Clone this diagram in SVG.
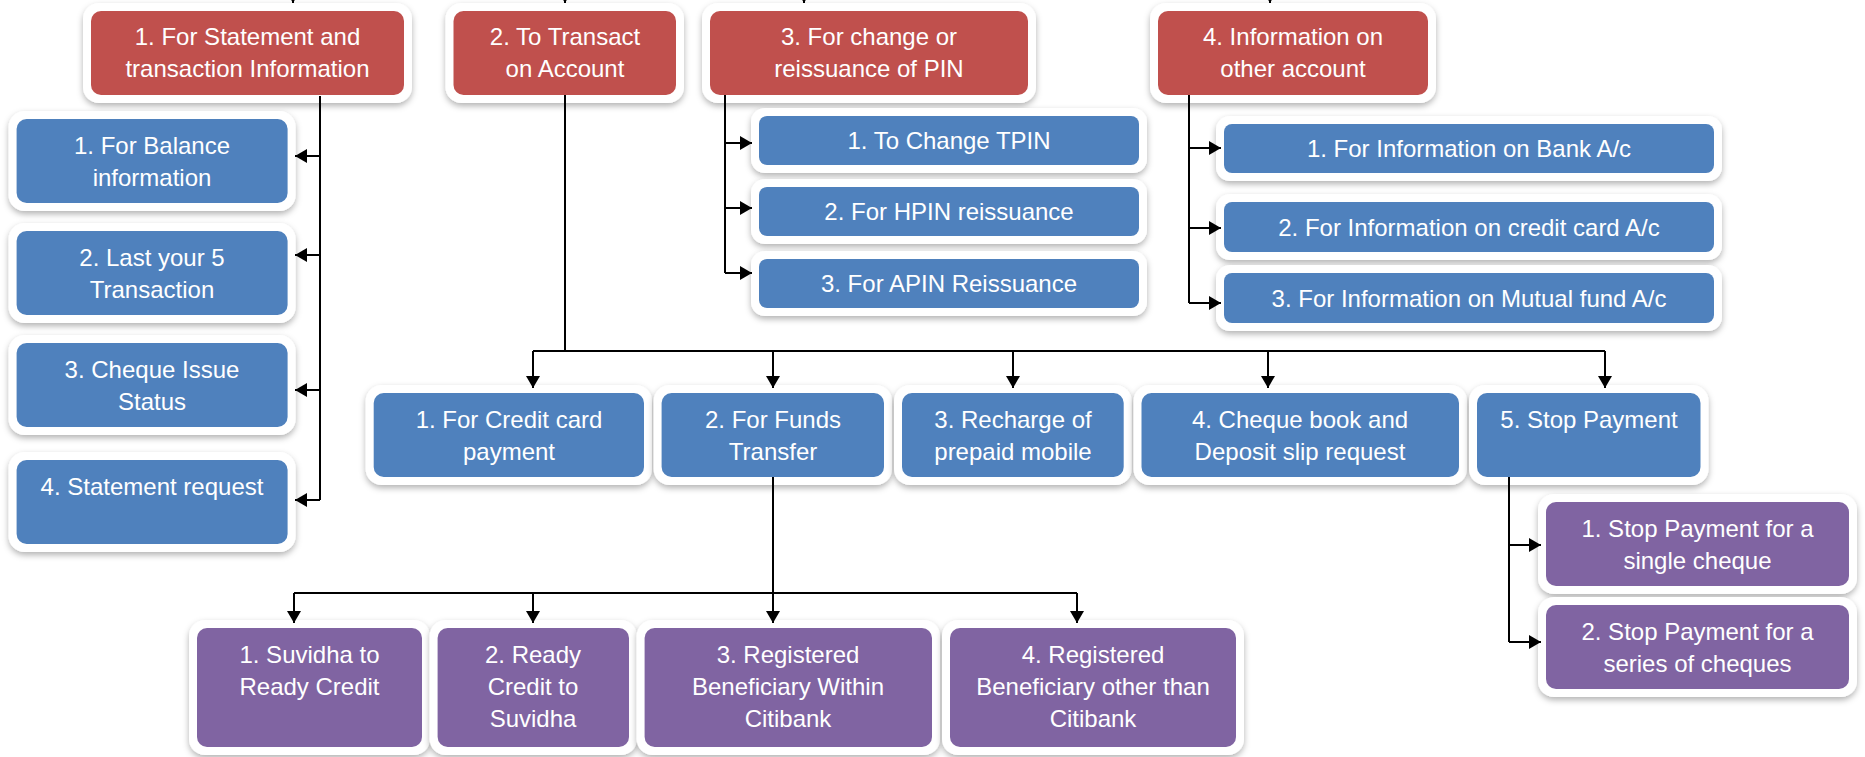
<svg xmlns="http://www.w3.org/2000/svg" width="1865" height="757" viewBox="0 0 1865 757">
<style>
.w{fill:#ffffff;filter:url(#sh)}
.red{fill:#C0504D}
.blue{fill:#4F81BD}
.pur{fill:#8064A2}
text{font-family:"Liberation Sans",Arial,sans-serif;font-size:24px;fill:#ffffff;text-anchor:middle}
.c{fill:none;stroke:#000000;stroke-width:2}
.a{marker-end:url(#ah)}
</style>
<defs>
<filter id="sh" x="-10%" y="-10%" width="120%" height="130%">
<feDropShadow dx="0" dy="3" stdDeviation="3" flood-color="#000000" flood-opacity="0.3"/>
</filter>
<marker id="ah" viewBox="0 0 12 14" markerWidth="12" markerHeight="14" refX="12" refY="7" orient="auto" markerUnits="userSpaceOnUse">
<path d="M0,0 L12,7 L0,14 z" fill="#000000"/>
</marker>
</defs>
<rect width="1865" height="757" fill="#ffffff"/>

<g id="r1"><rect class="w" x="83" y="3" width="329" height="100" rx="16"/><rect class="red" x="91" y="11" width="313" height="84" rx="10"/><text x="247.5" y="45">1. For Statement and</text><text x="247.5" y="77">transaction Information</text></g>
<g id="r2"><rect class="w" x="445.5" y="3" width="238.5" height="100" rx="16"/><rect class="red" x="453.5" y="11" width="222.5" height="84" rx="10"/><text x="565" y="45">2. To Transact</text><text x="565" y="77">on Account</text></g>
<g id="r3"><rect class="w" x="702" y="3" width="334" height="100" rx="16"/><rect class="red" x="710" y="11" width="318" height="84" rx="10"/><text x="869" y="45">3. For change or</text><text x="869" y="77">reissuance of PIN</text></g>
<g id="r4"><rect class="w" x="1150" y="3" width="286" height="100" rx="16"/><rect class="red" x="1158" y="11" width="270" height="84" rx="10"/><text x="1293" y="45">4. Information on</text><text x="1293" y="77">other account</text></g>

<g id="b1"><rect class="w" x="8.6" y="111" width="287" height="100" rx="16"/><rect class="blue" x="16.6" y="119" width="271" height="84" rx="10"/><text x="152" y="154">1. For Balance</text><text x="152" y="186">information</text></g>
<g id="b2"><rect class="w" x="8.6" y="223" width="287" height="100" rx="16"/><rect class="blue" x="16.6" y="231" width="271" height="84" rx="10"/><text x="152" y="266">2. Last your 5</text><text x="152" y="298">Transaction</text></g>
<g id="b3"><rect class="w" x="8.6" y="335" width="287" height="100" rx="16"/><rect class="blue" x="16.6" y="343" width="271" height="84" rx="10"/><text x="152" y="378">3. Cheque Issue</text><text x="152" y="410">Status</text></g>
<g id="b4"><rect class="w" x="8.6" y="452" width="287" height="100" rx="16"/><rect class="blue" x="16.6" y="460" width="271" height="84" rx="10"/><text x="152" y="495">4. Statement request</text></g>

<g id="p1"><rect class="w" x="751" y="108" width="396" height="65" rx="14"/><rect class="blue" x="759" y="116" width="380" height="49" rx="8"/><text x="949" y="149">1. To Change TPIN</text></g>
<g id="p2"><rect class="w" x="751" y="179" width="396" height="65" rx="14"/><rect class="blue" x="759" y="187" width="380" height="49" rx="8"/><text x="949" y="220">2. For HPIN reissuance</text></g>
<g id="p3"><rect class="w" x="751" y="251" width="396" height="65" rx="14"/><rect class="blue" x="759" y="259" width="380" height="49" rx="8"/><text x="949" y="292">3. For APIN Reissuance</text></g>

<g id="i1"><rect class="w" x="1216" y="116" width="506" height="65" rx="14"/><rect class="blue" x="1224" y="124" width="490" height="49" rx="8"/><text x="1469" y="157">1. For Information on Bank A/c</text></g>
<g id="i2"><rect class="w" x="1216" y="194" width="506" height="66" rx="14"/><rect class="blue" x="1224" y="202" width="490" height="50" rx="8"/><text x="1469" y="236">2. For Information on credit card A/c</text></g>
<g id="i3"><rect class="w" x="1216" y="265" width="506" height="66" rx="14"/><rect class="blue" x="1224" y="273" width="490" height="50" rx="8"/><text x="1469" y="307">3. For Information on Mutual fund A/c</text></g>

<g id="m1"><rect class="w" x="365.7" y="385" width="286.3" height="100" rx="16"/><rect class="blue" x="373.7" y="393" width="270.3" height="84" rx="10"/><text x="509" y="428">1. For Credit card</text><text x="509" y="460">payment</text></g>
<g id="m2"><rect class="w" x="653.6" y="385" width="238.4" height="100" rx="16"/><rect class="blue" x="661.6" y="393" width="222.4" height="84" rx="10"/><text x="773" y="428">2. For Funds</text><text x="773" y="460">Transfer</text></g>
<g id="m3"><rect class="w" x="894" y="385" width="237.7" height="100" rx="16"/><rect class="blue" x="902" y="393" width="221.7" height="84" rx="10"/><text x="1013" y="428">3. Recharge of</text><text x="1013" y="460">prepaid mobile</text></g>
<g id="m4"><rect class="w" x="1133.5" y="385" width="333.5" height="100" rx="16"/><rect class="blue" x="1141.5" y="393" width="317.5" height="84" rx="10"/><text x="1300" y="428">4. Cheque book and</text><text x="1300" y="460">Deposit slip request</text></g>
<g id="m5"><rect class="w" x="1469" y="385" width="239.5" height="100" rx="16"/><rect class="blue" x="1477" y="393" width="223.5" height="84" rx="10"/><text x="1589" y="428">5. Stop Payment</text></g>

<g id="s1"><rect class="w" x="1538" y="494" width="319" height="100" rx="16"/><rect class="pur" x="1546" y="502" width="303" height="84" rx="10"/><text x="1697.5" y="537">1. Stop Payment for a</text><text x="1697.5" y="569">single cheque</text></g>
<g id="s2"><rect class="w" x="1538" y="597" width="319" height="100" rx="16"/><rect class="pur" x="1546" y="605" width="303" height="84" rx="10"/><text x="1697.5" y="640">2. Stop Payment for a</text><text x="1697.5" y="672">series of cheques</text></g>

<g id="f1"><rect class="w" x="189" y="620" width="241" height="135" rx="16"/><rect class="pur" x="197" y="628" width="225" height="119" rx="10"/><text x="309.5" y="663">1. Suvidha to</text><text x="309.5" y="695">Ready Credit</text></g>
<g id="f2"><rect class="w" x="429.6" y="620" width="207.4" height="135" rx="16"/><rect class="pur" x="437.6" y="628" width="191.4" height="119" rx="10"/><text x="533" y="663">2. Ready</text><text x="533" y="695">Credit to</text><text x="533" y="727">Suvidha</text></g>
<g id="f3"><rect class="w" x="636.6" y="620" width="303.4" height="135" rx="16"/><rect class="pur" x="644.6" y="628" width="287.4" height="119" rx="10"/><text x="788" y="663">3. Registered</text><text x="788" y="695">Beneficiary Within</text><text x="788" y="727">Citibank</text></g>
<g id="f4"><rect class="w" x="942" y="620" width="302" height="135" rx="16"/><rect class="pur" x="950" y="628" width="286" height="119" rx="10"/><text x="1093" y="663">4. Registered</text><text x="1093" y="695">Beneficiary other than</text><text x="1093" y="727">Citibank</text></g>

<g id="connectors">
<path class="c a" d="M293,-20 V3"/>
<path class="c a" d="M565,-20 V3"/>
<path class="c a" d="M804,-20 V3"/>
<path class="c a" d="M1270,-20 V3"/>

<path class="c" d="M320,96 V500"/>
<path class="c a" d="M320,156 H295"/>
<path class="c a" d="M320,255 H295"/>
<path class="c a" d="M320,390 H295"/>
<path class="c a" d="M320,500 H295"/>

<path class="c" d="M565,95 V351 M533,351 H1605"/>
<path class="c a" d="M533,351 V388"/>
<path class="c a" d="M773,351 V388"/>
<path class="c a" d="M1013,351 V388"/>
<path class="c a" d="M1268,351 V388"/>
<path class="c a" d="M1605,351 V388"/>

<path class="c" d="M725,95 V273"/>
<path class="c a" d="M725,143 H752"/>
<path class="c a" d="M725,208 H752"/>
<path class="c a" d="M725,273 H752"/>

<path class="c" d="M1189,95 V303"/>
<path class="c a" d="M1189,148 H1221"/>
<path class="c a" d="M1189,228 H1221"/>
<path class="c a" d="M1189,303 H1221"/>

<path class="c" d="M294,593 H1077"/>
<path class="c a" d="M773,477 V623"/>
<path class="c a" d="M294,593 V623"/>
<path class="c a" d="M533,593 V623"/>
<path class="c a" d="M1077,593 V623"/>

<path class="c" d="M1509,477 V642"/>
<path class="c a" d="M1509,545 H1541"/>
<path class="c a" d="M1509,642 H1541"/>
</g>
</svg>
